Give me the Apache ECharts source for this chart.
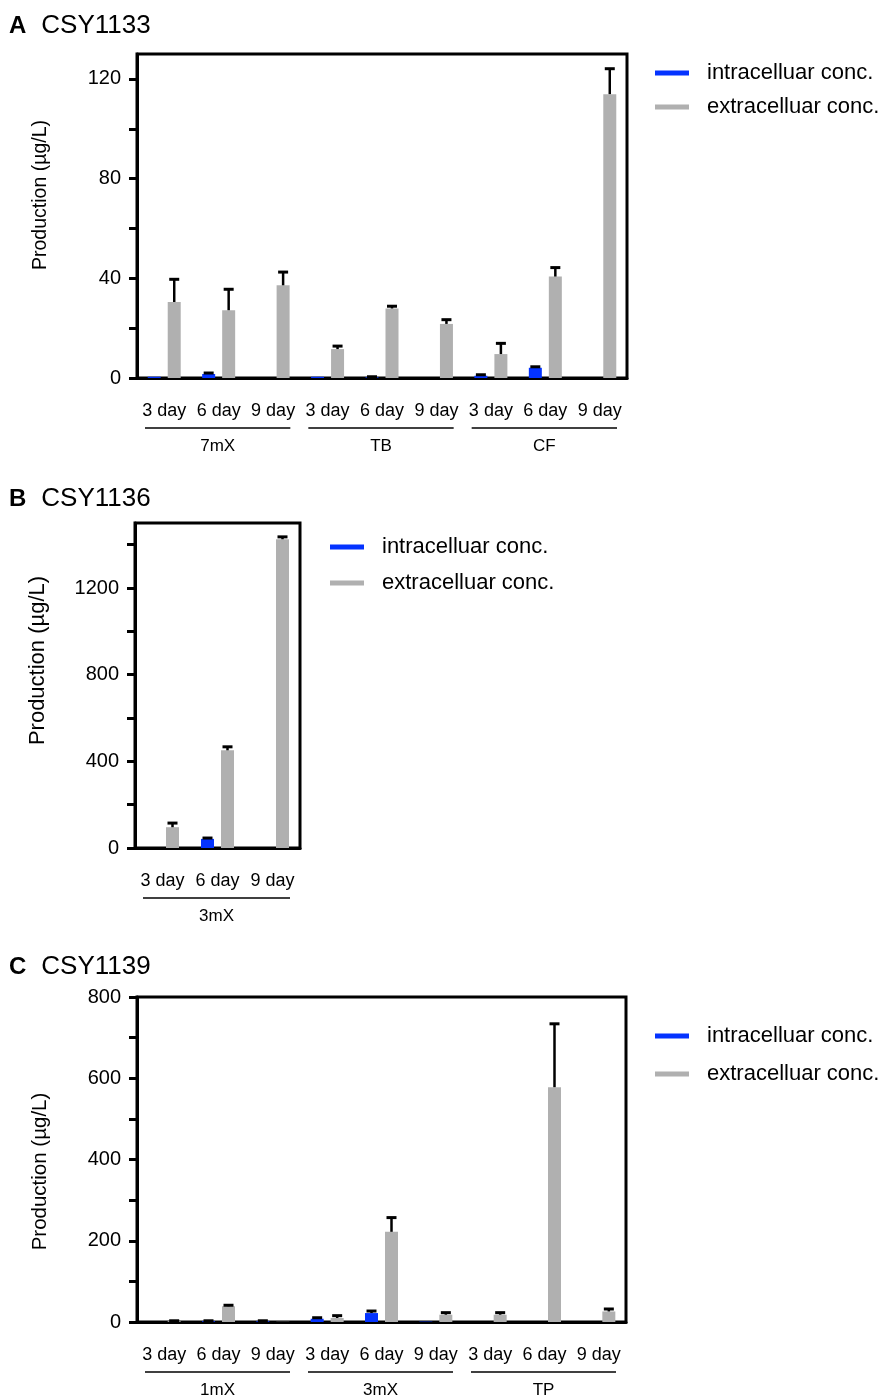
<!DOCTYPE html>
<html><head><meta charset="utf-8">
<script src="https://cdn.jsdelivr.net/npm/echarts@6/dist/echarts.min.js"></script>
<style>html,body{margin:0;padding:0;background:#fff}#c{width:884px;height:1396px}</style>
</head><body><div id="c"></div><script>
// ---------- data ----------
const dayLabels = ['3 day', '6 day', '9 day'];
const seriesNames = ['intracelluar conc.', 'extracelluar conc.'];

const titleA = 'CSY1133';
const groupsA = ['7mX', 'TB', 'CF'];
const intraA = [0.5, 1.6, 0, 0.5, 0.3, 0, 0.9, 4.1, 0];
const intraErrA = [0, 0.4, 0, 0, 0.2, 0, 0.4, 0.4, 0];
const extraA = [30.5, 27.2, 37.2, 11.6, 27.9, 21.7, 9.6, 40.7, 113.9];
const extraErrA = [9.1, 8.4, 5.3, 1.2, 0.9, 1.7, 4.3, 3.6, 10.2];
const tickA = [0, 20, 40, 60, 80, 100, 120];
const labelA = [0, 40, 80, 120];

const titleB = 'CSY1136';
const groupsB = ['3mX'];
const intraB = [0, 42, 0];
const intraErrB = [0, 4, 0];
const extraB = [96, 451, 1425];
const extraErrB = [19, 16, 11];
const tickB = [0, 200, 400, 600, 800, 1000, 1200, 1400];
const labelB = [0, 400, 800, 1200];

const titleC = 'CSY1139';
const groupsC = ['1mX', '3mX', 'TP'];
const intraC = [0, 2, 2, 8, 22, 1, 0, 0, 0];
const intraErrC = [0, 1, 1, 2.5, 5, 0, 0, 0, 0];
const extraC = [2, 38.7, 0.5, 9.9, 222, 18, 18, 578, 26];
const extraErrC = [1, 2.5, 0, 5.7, 35, 5, 5, 156, 6];
const tickC = [0, 100, 200, 300, 400, 500, 600, 700, 800];
const labelC = [0, 200, 400, 600, 800];

// ---------- style ----------
const BLUE = '#0433ff';
const GRAY = '#b0b0b0';
const FONT = 'Liberation Sans, Arial, sans-serif';
const BAR_W = 13;
const BAR_GAP = 7;

function cats(groups) {
  const out = [];
  groups.forEach(() => dayLabels.forEach(d => out.push(d)));
  return out;
}

const panels = [
  {title: titleA, letter: 'A', groups: groupsA, intra: intraA, intraErr: intraErrA, extra: extraA, extraErr: extraErrA,
   ticks: tickA, labels: labelA, max: 130,
   grid: {left: 137, top: 54, width: 490, height: 324}, titlePos: {left: 4, top: 8},
   legend: {left: 650, top: 57, gap: 12}, nameSize: 19.5, nameShift: 42},
  {title: titleB, letter: 'B', groups: groupsB, intra: intraB, intraErr: intraErrB, extra: extraB, extraErr: extraErrB,
   ticks: tickB, labels: labelB, max: 1500,
   grid: {left: 135, top: 523, width: 165, height: 325}, titlePos: {left: 4, top: 481},
   legend: {left: 325, top: 531, gap: 14}, nameSize: 22, nameShift: 50},
  {title: titleC, letter: 'C', groups: groupsC, intra: intraC, intraErr: intraErrC, extra: extraC, extraErr: extraErrC,
   ticks: tickC, labels: labelC, max: 800,
   grid: {left: 137, top: 997, width: 489, height: 325}, titlePos: {left: 4, top: 949},
   legend: {left: 650, top: 1020, gap: 16}, nameSize: 20.5, nameShift: -24}
];

const option = {
  animation: false,
  backgroundColor: '#fff',
  textStyle: {fontFamily: FONT, color: '#000'},
  title: [], legend: [], grid: [], xAxis: [], yAxis: [], series: []
};

function errRender(sign) {
  return function (params, api) {
    const i = api.value(0);
    const lo = api.coord([i, api.value(1)]);
    const hi = api.coord([i, api.value(2)]);
    const x = lo[0] + sign * (BAR_W + BAR_GAP) / 2;
    return {
      type: 'group',
      children: [
        {type: 'line', shape: {x1: x, y1: lo[1], x2: x, y2: hi[1]}, style: {stroke: '#000', lineWidth: 2.5}},
        {type: 'line', shape: {x1: x - 5, y1: hi[1], x2: x + 5, y2: hi[1]}, style: {stroke: '#000', lineWidth: 3}}
      ]
    };
  };
}

panels.forEach((p, k) => {
  option.title.push({
    text: '{b|' + p.letter + '}{n|' + p.title + '}',
    left: p.titlePos.left, top: p.titlePos.top,
    textStyle: {fontWeight: 'normal', rich: {
      b: {fontFamily: FONT, fontSize: 24, fontWeight: 'bold', color: '#000'},
      n: {fontFamily: FONT, fontSize: 26, fontWeight: 'normal', color: '#000', padding: [0, 0, 0, 15]}
    }}
  });
  option.legend.push({
    data: seriesNames, orient: 'vertical', left: p.legend.left, top: p.legend.top,
    icon: 'rect', itemWidth: 34, itemHeight: 5, itemGap: p.legend.gap, selectedMode: false,
    textStyle: {fontFamily: FONT, fontSize: 22, color: '#000', padding: [0, 0, 0, 13]}
  });
  option.grid.push(Object.assign({show: true, borderColor: '#000', borderWidth: 3, backgroundColor: 'transparent'}, p.grid));
  option.xAxis.push({
    gridIndex: k, type: 'category', data: cats(p.groups),
    axisLine: {lineStyle: {color: '#000', width: 3}},
    axisTick: {alignWithLabel: true, length: 8, lineStyle: {color: '#000', width: 3}},
    axisLabel: {fontFamily: FONT, fontSize: 18, color: '#000', margin: 24, interval: 0}
  });
  option.yAxis.push({
    gridIndex: k, type: 'value', min: 0, max: p.max,
    name: 'Production (µg/L)', nameLocation: 'middle', nameGap: 86,
    nameTextStyle: {fontFamily: FONT, fontSize: p.nameSize, color: '#000',
      padding: p.nameShift >= 0 ? [0, 0, 0, p.nameShift] : [0, -p.nameShift, 0, 0]},
    splitLine: {show: false},
    axisLine: {show: true, lineStyle: {color: '#000', width: 3}},
    axisTick: {show: true, length: 8, lineStyle: {color: '#000', width: 3}, customValues: p.ticks},
    axisLabel: {fontFamily: FONT, fontSize: 20, color: '#000', margin: 16, customValues: p.labels,
      formatter: v => String(v)}
  });
  option.series.push({
    name: seriesNames[0], type: 'bar', xAxisIndex: k, yAxisIndex: k,
    data: p.intra, barWidth: BAR_W, barGap: (BAR_GAP / BAR_W * 100) + '%', itemStyle: {color: BLUE}
  });
  option.series.push({
    name: seriesNames[1], type: 'bar', xAxisIndex: k, yAxisIndex: k,
    data: p.extra, barWidth: BAR_W, barGap: (BAR_GAP / BAR_W * 100) + '%', itemStyle: {color: GRAY}
  });
  const eI = [], eE = [];
  p.intra.forEach((v, i) => { if (p.intraErr[i] > 0) eI.push([i, v, v + p.intraErr[i]]); });
  p.extra.forEach((v, i) => { if (p.extraErr[i] > 0) eE.push([i, v, v + p.extraErr[i]]); });
  option.series.push({
    name: 'errI' + k, type: 'custom', xAxisIndex: k, yAxisIndex: k, z: 5,
    encode: {x: 0, y: [1, 2]}, data: eI, renderItem: errRender(-1)
  });
  option.series.push({
    name: 'errE' + k, type: 'custom', xAxisIndex: k, yAxisIndex: k, z: 5,
    encode: {x: 0, y: [1, 2]}, data: eE, renderItem: errRender(1)
  });
  const gData = p.groups.map((g, j) => [j * 3, j * 3 + 2, 0]);
  option.series.push({
    name: 'groups' + k, type: 'custom', xAxisIndex: k, yAxisIndex: k, clip: false, silent: true,
    encode: {x: [0, 1], y: 2}, data: gData,
    renderItem: function (params, api) {
      const a = api.coord([api.value(0), 0]);
      const b = api.coord([api.value(1), 0]);
      const w = api.size([1, 0])[0];
      const x0 = a[0] - w / 2 + 8, x1 = b[0] + w / 2 - 10;
      const y = a[1] + 50;
      return {
        type: 'group',
        children: [
          {type: 'line', shape: {x1: x0, y1: y, x2: x1, y2: y}, style: {stroke: '#000', lineWidth: 1.5}},
          {type: 'text', x: (x0 + x1) / 2, y: y + 18, style: {
            text: p.groups[params.dataIndex], fill: '#000', font: '17px ' + FONT,
            align: 'center', verticalAlign: 'middle'}}
        ]
      };
    }
  });
});

const chart = echarts.init(document.getElementById('c'), null, {renderer: 'canvas'});
chart.setOption(option);
</script></body></html>
